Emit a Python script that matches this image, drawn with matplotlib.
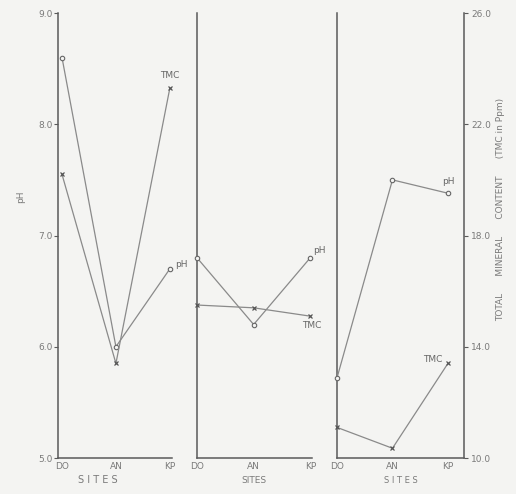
import numpy as np
import matplotlib.pyplot as plt

# sites and measured values for the three panels
sites = ['DO', 'AN', 'KP']
ph_1 = [8.6, 6.0, 6.7]
ph_2 = [6.8, 6.2, 6.8]
ph_3 = [5.72, 7.5, 7.38]
tmc_1 = [20.2, 13.4, 23.3]
tmc_2 = [15.5, 15.4, 15.1]
tmc_3 = [11.1, 10.35, 13.4]
ph_ticks = [5.0, 6.0, 7.0, 8.0, 9.0]
tmc_ticks = [10.0, 14.0, 18.0, 22.0, 26.0]

bg = '#f4f4f2'
line_c = '#8a8a8a'
spine_c = '#5a5a5a'
text_c = '#7a7a7a'

fig = plt.figure(figsize=(5.16, 4.94), dpi=100, facecolor=bg)

W, H = 516.0, 494.0
y0 = 1 - 458 / H
hh = (458 - 13) / H
# panel boxes in pixels: left, right, xlim
panels = [
    (58, 172, (-0.074, 2.04)),
    (197, 312, (0.0, 2.03)),
    (337, 464, (0.0, 2.29)),
]
ph_data = [ph_1, ph_2, ph_3]
tmc_data = [tmc_1, tmc_2, tmc_3]

x = np.arange(len(sites))
axes = []
for i, (l, r, xl) in enumerate(panels):
    ax = fig.add_axes([l / W, y0, (r - l) / W, hh])
    ax.set_facecolor('none')
    ax.set_xlim(*xl)
    ax.set_ylim(5.0, 9.0)
    for s in ['top', 'right']:
        ax.spines[s].set_visible(False)
    for s in ['left', 'bottom']:
        ax.spines[s].set_color(spine_c)
        ax.spines[s].set_linewidth(1.1)
    ax.set_xticks(x)
    ax.set_xticklabels(sites)
    ax.tick_params(axis='x', length=0, pad=3, labelsize=6.5, labelcolor=text_c)
    if i == 0:
        ax.set_yticks(ph_ticks)
        ax.set_yticklabels(['%.1f' % v for v in ph_ticks])
        ax.tick_params(axis='y', length=3, width=0.8, color=spine_c, pad=1,
                       labelsize=6.5, labelcolor=text_c)
    else:
        ax.set_yticks([])

    # pH series: open circles
    ax.plot(x, ph_data[i], color=line_c, lw=0.9, marker='o', ms=3.2,
            mfc=bg, mec='#666666', mew=0.8, clip_on=False, zorder=3)

    # TMC series on its own scale
    tw = ax.twinx()
    tw.set_ylim(10.0, 26.0)
    tw.set_xlim(*xl)
    for s in ['top', 'left', 'bottom']:
        tw.spines[s].set_visible(False)
    tw.plot(x, tmc_data[i], color=line_c, lw=0.9, marker='x', ms=2.5,
            mec='#555555', mew=0.9, clip_on=False, zorder=3)
    if i == 2:
        tw.spines['right'].set_color(spine_c)
        tw.spines['right'].set_linewidth(1.1)
        tw.set_yticks(tmc_ticks)
        tw.set_yticklabels(['%.1f' % v for v in tmc_ticks])
        tw.tick_params(axis='y', length=3, width=0.8, color=spine_c, pad=2,
                       labelsize=6.5, labelcolor=text_c)
    else:
        tw.spines['right'].set_visible(False)
        tw.set_yticks([])
    axes.append((ax, tw))

# axis titles
fig.text(21 / W, 1 - 197 / H, 'pH', fontsize=6.5, color=text_c,
         rotation=90, ha='center', va='center')
fig.text(501 / W, 1 - 209 / H,
         'TOTAL      MINERAL      CONTENT      (TMC in Ppm)',
         fontsize=6.5, color=text_c, rotation=90, ha='center', va='center')
fig.text(98 / W, 1 - 480 / H, 'S I T E S', fontsize=7, color=text_c,
         ha='center', va='center')
fig.text(254 / W, 1 - 480 / H, 'SITES', fontsize=6.5, color=text_c,
         ha='center', va='center')
fig.text(401 / W, 1 - 480 / H, 'S I T E S', fontsize=6, color=text_c,
         ha='center', va='center')

# series labels next to the KP points
lab = dict(fontsize=6.5, color='#666666')
a1, t1 = axes[0]
t1.annotate('TMC', (2, tmc_1[2]), xytext=(0, 6), textcoords='offset points',
            ha='center', va='bottom', **lab)
a1.annotate('pH', (2, ph_1[2]), xytext=(4, 3), textcoords='offset points',
            ha='left', va='center', **lab)
a2, t2 = axes[1]
a2.annotate('pH', (2, ph_2[2]), xytext=(2, 5), textcoords='offset points',
            ha='left', va='center', **lab)
t2.annotate('TMC', (2, tmc_2[2]), xytext=(-6, -7), textcoords='offset points',
            ha='left', va='center', **lab)
a3, t3 = axes[2]
a3.annotate('pH', (2, ph_3[2]), xytext=(0, 5), textcoords='offset points',
            ha='center', va='bottom', **lab)
t3.annotate('TMC', (2, tmc_3[2]), xytext=(-4, 3), textcoords='offset points',
            ha='right', va='center', **lab)

fig.savefig('out.png', dpi=100, facecolor=bg)
